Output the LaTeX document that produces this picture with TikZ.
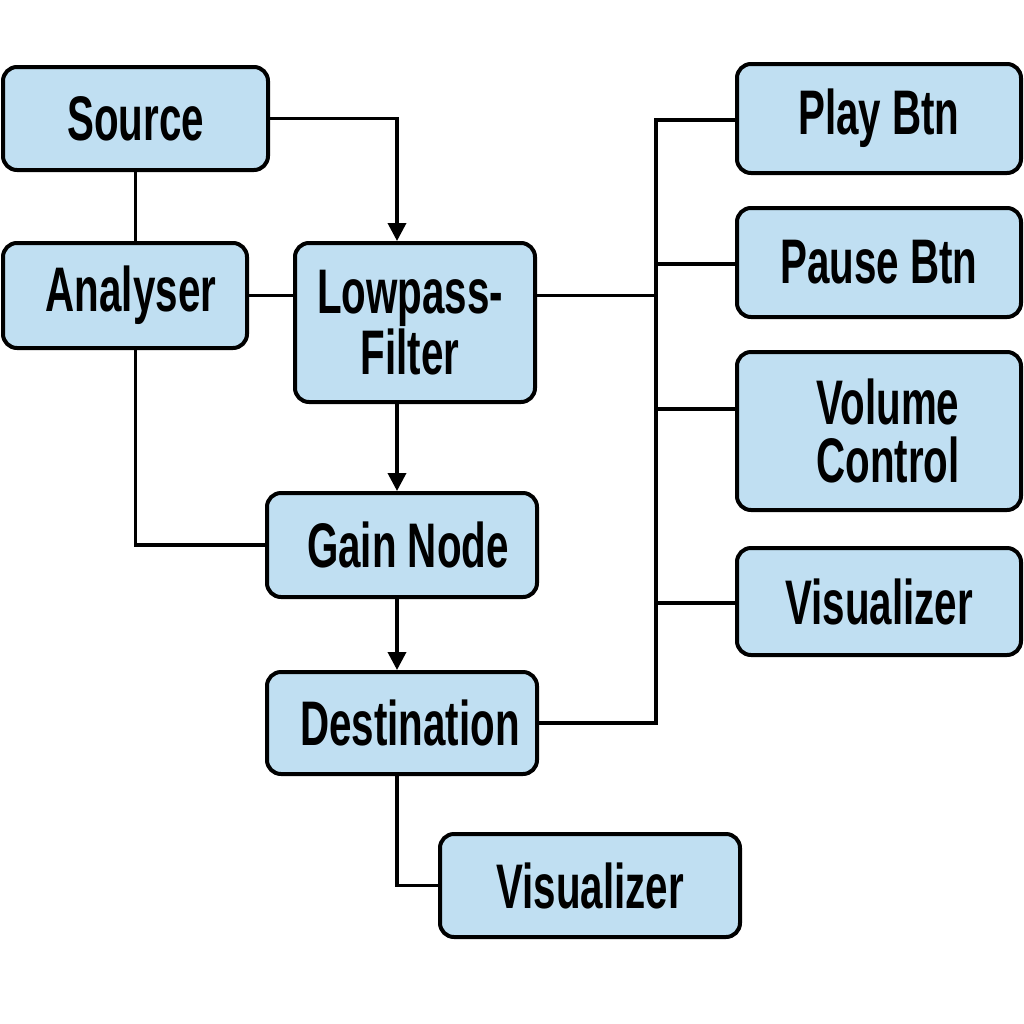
\documentclass[tikz,border=0pt]{standalone}
\usepackage{fontspec}
\setmainfont{Liberation Sans}[FakeStretch=0.64]
\usetikzlibrary{arrows.meta,calc}
\definecolor{boxfill}{RGB}{192,223,242}
\begin{document}
\begin{tikzpicture}[x=0.5pt,y=-0.5pt,
  box/.style={draw=black,line width=2pt,fill=boxfill,rounded corners=7pt,
    inner sep=0pt,align=center,font=\fontsize{31.5}{29}\selectfont\bfseries},
  conn/.style={line width=1.8pt,draw=black},
  arr/.style={conn,-{Triangle[length=9pt,width=9pt]}}]
\useasboundingbox (0,0) rectangle (1024,1024);
\node[box,minimum width=132.5pt,minimum height=51.5pt] (src) at (135.5,118.5) {Source};
\node[box,minimum width=122pt,minimum height=52.5pt] (an) at (125,295.5) {\hspace*{6pt}Analyser};
\node[box,minimum width=120pt,minimum height=79.5pt] (lp) at (415,322.5) {\hspace*{-5pt}Lowpass-\\\hspace*{-5pt}Filter};
\node[box,minimum width=135pt,minimum height=52pt] (gain) at (402,545) {\hspace*{6pt}Gain Node};
\node[box,minimum width=135pt,minimum height=51pt] (dest) at (402,723) {\hspace*{8pt}Destination};
\node[box,minimum width=150pt,minimum height=51.5pt] (vistwo) at (590,885.5) {Visualizer};
\node[box,minimum width=142pt,minimum height=54.5pt] (play) at (879,118.5) {Play Btn};
\node[box,minimum width=142pt,minimum height=54.5pt] (pause) at (879,262.5) {Pause Btn};
\node[box,minimum width=142pt,minimum height=79pt] (vol) at (879,431) {\hspace*{9pt}Volume\\\hspace*{9pt}Control};
\node[box,minimum width=142pt,minimum height=53.5pt] (visone) at (879,601.5) {Visualizer};
\coordinate (bx) at (397,0);
\coordinate (bus) at (656,0);
% connectors
\draw[arr] (src.east) -| (lp.north -| bx);
\draw[conn] (src.south) -- (src.south |- an.north);
\draw[conn] (an.east) -- (an.east -| lp.west);
\draw[conn] (an.south -| src.south) |- (gain.west);
\draw[arr] (lp.south -| bx) -- (gain.north -| bx);
\draw[arr] (gain.south -| bx) -- (dest.north -| bx);
\draw[conn] (lp.east |- an.east) -- (an.east -| bus);
\draw[conn] (dest.east) -| ([yshift=-0.75pt]play.west -| bus) -- ([yshift=-0.75pt]play.west);
\draw[conn] ([yshift=-0.75pt]pause.west -| bus) -- ([yshift=-0.75pt]pause.west);
\draw[conn] ([yshift=11pt]vol.west -| bus) -- ([yshift=11pt]vol.west);
\draw[conn] ([yshift=-0.75pt]visone.west -| bus) -- ([yshift=-0.75pt]visone.west);
\draw[conn] (dest.south -| bx) |- (vistwo.west);
\end{tikzpicture}
\end{document}
